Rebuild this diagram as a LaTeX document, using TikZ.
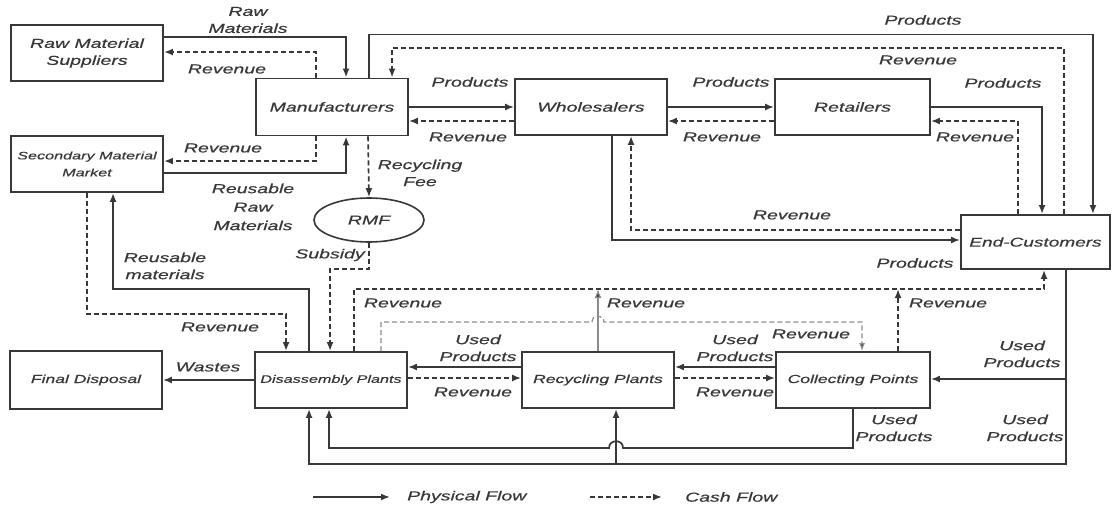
\documentclass[tikz,border=0pt]{standalone}
\usepackage{fontspec}
\setmainfont{Liberation Sans}[FakeStretch=1.5,FakeBold=0.5]
\usetikzlibrary{arrows.meta,calc,shapes.geometric}
\definecolor{ink}{HTML}{383838}
\definecolor{inklight}{HTML}{8C8C8C}
\newcommand{\labfont}{\fontsize{13}{17}\selectfont\itshape}
\newcommand{\smallfont}{\fontsize{10.8}{17}\selectfont\itshape}
\newcommand{\lowfont}{\fontsize{11.7}{17}\selectfont\itshape}
\newcommand{\custfont}{\fontsize{12.7}{17}\selectfont\itshape}
\tikzset{
  box/.style={draw=ink, line width=1.9pt, rectangle, minimum width=152pt,
    minimum height=56pt, inner sep=0pt, align=center, text=ink, font=\labfont},
  phys/.style={draw=ink, line width=1.7pt, -{Latex[length=9pt,width=7pt]}},
  cash/.style={phys, dash pattern=on 5pt off 3pt},
  cashlight/.style={draw=inklight, line width=1.2pt, dash pattern=on 5pt off 3pt,
    -{Latex[length=8pt,width=6pt,fill=ink]}},
  physlight/.style={draw=inklight, line width=1.2pt, -{Latex[length=9pt,width=7pt,fill=ink]}},
  lbl/.style={text=ink, align=center, inner sep=0pt, font=\labfont}
}
\begin{document}
\begin{tikzpicture}[x=1pt,y=-1pt]
\fill[white] (0,0) rectangle (1112,514);
\useasboundingbox (0,0) rectangle (1112,514);

% actors
\node[box] (rms) at (87,53) {Raw Material\\Suppliers};
\node[box,font=\smallfont] (smm) at (87,164) {Secondary Material\\Market};
\node[box,minimum height=57pt] (man) at (332,107) {Manufacturers};
\node[box] (who) at (591,107) {Wholesalers};
\node[box,minimum width=155pt] (ret) at (852.5,107) {Retailers};
\node[box,minimum width=149pt,minimum height=54pt,font=\custfont] (cust) at (1035.5,242) {End-Customers};
\node[draw=ink,line width=1.6pt,ellipse,minimum width=110pt,minimum height=44pt,
      inner sep=0pt,text=ink,font=\labfont] (rmf) at (369,220) {RMF};
\node[box,minimum height=58pt,font=\lowfont] (fd) at (86,380) {Final Disposal};
\node[box,font=\smallfont] (dis) at (331,380) {Disassembly Plants};
\node[box,font=\lowfont] (rec) at (598,380) {Recycling Plants};
\node[box,minimum width=154pt,font=\lowfont] (col) at (853,380) {Collecting Points};

% suppliers and secondary market
\draw[phys] ($(rms.north east)+(0,13)$) -| ($(man.north west)+(91,0)$);
\node[lbl] (lrawmat) at (248,20) {Raw\\Materials};
\draw[cash] ($(man.north west)+(61,0)$) |- ($(rms.north east)+(0,28)$);
\node[lbl] (lrev1) at (227,69) {Revenue};
\draw[cash] ($(man.south west)+(61,0)$) |- ($(smm.north east)+(0,26)$);
\node[lbl] (lrev2) at (223,148) {Revenue};
\draw[phys] ($(smm.north east)+(0,38)$) -| ($(man.south west)+(91,0)$);
\node[lbl,font=\fontsize{13}{18.5}\selectfont\itshape] (lreuse) at (253,207) {Reusable\\Raw\\Materials};
\draw[cash] ($(man.south west)+(113,0)$) -- (rmf.north);
\node[lbl] (lfee) at (420,173) {Recycling\\Fee};

% forward supply chain
\draw[phys] (man.east) -- (who.west);
\node[lbl] (lprod1) at (470,82) {Products};
\draw[cash] ($(who.west)+(0,14)$) -- ($(man.east)+(0,14)$);
\node[lbl] (lrev3) at (468,137) {Revenue};
\draw[phys] (who.east) -- (ret.west);
\node[lbl] (lprod2) at (731,82) {Products};
\draw[cash] ($(ret.west)+(0,14)$) -- ($(who.east)+(0,14)$);
\node[lbl] (lrev4) at (722,137) {Revenue};

\draw[phys] ($(man.north west)+(114,0)$) -- ++(0,-43) -| ($(cust.north east)+(-18,0)$);
\node[lbl] (lprod3) at (923,20) {Products};
\draw[cash] ($(cust.north west)+(104,0)$) -- ++(0,-166) -| ($(man.north west)+(137,0)$);
\node[lbl] (lrev5) at (918,60) {Revenue};

\draw[phys] (ret.east) -| ($(cust.north west)+(82,0)$);
\node[lbl] (lprod4) at (1003,83) {Products};
\draw[cash] ($(cust.north west)+(58,0)$) |- ($(ret.east)+(0,14)$);
\node[lbl] (lrev6) at (975,137) {Revenue};

\draw[phys] ($(who.south west)+(98,0)$) |- ($(cust.west)+(0,-2)$);
\node[lbl] (lprod5) at (915,263) {Products};
\draw[cash] ($(cust.west)+(0,-12)$) -| ($(who.south west)+(117,0)$);
\node[lbl] (lrev7) at (792,215) {Revenue};

% reverse chain
\draw[phys] ($(dis.north west)+(55,0)$) -- ++(0,-62) -| ($(smm.south west)+(103,0)$);
\node[lbl] (lreusemat) at (165,266) {Reusable\\materials};
\draw[cash] ($(smm.south west)+(77,0)$) -- ++(0,121) -| ($(dis.north west)+(32,0)$);
\node[lbl] (lrev8) at (220,327) {Revenue};
\draw[cash] (rmf.south) -- ++(0,26) -| ($(dis.north west)+(76,0)$);
\node[lbl] (lsub) at (330,255) {Subsidy};

\draw[phys] (dis.west) -- (fd.east);
\node[lbl] (lwaste) at (208,367) {Wastes};

\draw[phys] ($(rec.west)+(0,-13)$) -- ($(dis.east)+(0,-13)$);
\node[lbl] (lused1) at (478,348) {Used\\Products};
\draw[cash] ($(dis.east)+(0,-2)$) -- ($(rec.west)+(0,-2)$);
\node[lbl] (lrev9) at (473,392) {Revenue};
\draw[phys] ($(col.west)+(0,-13)$) -- ($(rec.east)+(0,-13)$);
\node[lbl] (lused2) at (735,348) {Used\\Products};
\draw[cash] ($(rec.east)+(0,-2)$) -- ($(col.west)+(0,-2)$);
\node[lbl] (lrev10) at (735,392) {Revenue};

% revenue returned to the customers
\draw[cash] ($(dis.north west)+(100,0)$) -- ++(0,-62) -| ($(cust.south west)+(84,0)$);
\node[lbl] (lrev11) at (403,303) {Revenue};
\draw[physlight] (rec.north) -- ++(0,-62);
\node[lbl] (lrev12) at (646,303) {Revenue};
\draw[cash] ($(col.north west)+(123,0)$) -- ++(0,-62);
\node[lbl] (lrev13) at (948,303) {Revenue};

% revenue from disassembly to collecting points, hopping over the riser
\draw[cashlight] ($(dis.north west)+(127,0)$) -- ++(0,-29)
  -- ($(rec.north)+(-6,-29)$) .. controls +(0,-8) and +(0,-8) .. ($(rec.north)+(6,-29)$)
  -- ($(col.north west)+(87,-29)$) -- ($(col.north west)+(87,0)$);
\node[lbl] (lrev14) at (811,334) {Revenue};

% used products returned by the customers
\draw[phys] ($(cust.south west)+(106,0)$) |- ($(col.east)+(0,-1)$);
\node[lbl] (lused3) at (1022,354) {Used\\Products};
\draw[phys] ($(cust.south west)+(106,0)$) |- ($(dis.south west)+(55,55)$) -- ($(dis.south west)+(55,0)$);
\draw[phys] ($(rec.south west)+(95,55)$) -- ($(rec.south west)+(95,0)$);
\node[lbl] (lused4) at (1025,428) {Used\\Products};
\draw[phys] ($(col.south west)+(78,0)$) -- ++(0,39)
  -- ($(rec.south west)+(102,39)$) .. controls +(0,-9) and +(0,-9) .. ($(rec.south west)+(88,39)$)
  -- ($(dis.south west)+(75,39)$) -- ($(dis.south west)+(75,0)$);
\node[lbl] (lused5) at (894,428) {Used\\Products};

% legend
\coordinate (lg1a) at (313,497);
\coordinate (lg1b) at (390,497);
\draw[phys] (lg1a) -- (lg1b);
\node[lbl,anchor=west] (lgphys) at (407,497) {Physical Flow};
\coordinate (lg2a) at (590,497);
\coordinate (lg2b) at (662,497);
\draw[cash] (lg2a) -- (lg2b);
\node[lbl,anchor=west] (lgcash) at (685,497) {Cash Flow};
\end{tikzpicture}
\end{document}
